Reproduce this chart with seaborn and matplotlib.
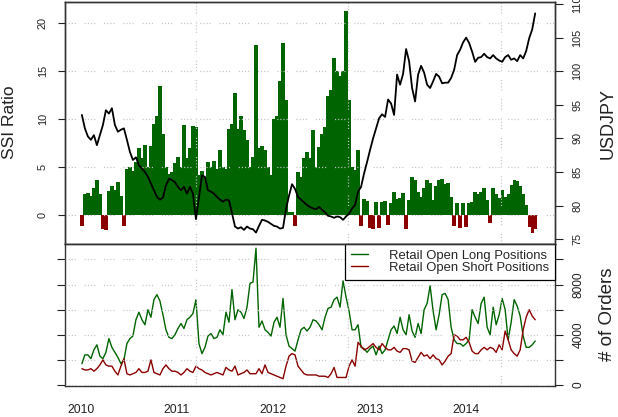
import numpy as np
import pandas as pd
import matplotlib
matplotlib.use("Agg")
import matplotlib.pyplot as plt
import matplotlib.dates as mdates
import seaborn as sns

# ---------------- data ----------------
dates = pd.date_range("2010-01-06", "2014-09-20", periods=152)

ssi_ratio = [
    -1.2, 2.2, 2.3, 2.0, 2.8, 3.7, 2.2, -1.5, -1.6, 2.5,
    3.0, 2.6, 3.4, 2.0, -1.1, 4.8, 5.0, 4.6, 5.5, 7.0,
    6.0, 7.3, 5.0, 7.2, 9.5, 10.3, 13.5, 8.5, 5.0, 4.3,
    4.5, 5.4, 6.1, 5.0, 9.4, 6.0, 7.0, 9.3, 9.2, 4.2,
    4.6, 4.0, 5.5, 5.0, 5.6, 4.8, 6.8, 5.0, 4.8, 9.0,
    9.5, 12.7, 9.0, 10.3, 8.9, 7.8, 5.0, 6.1, 17.8, 7.0,
    7.2, 6.8, 5.0, 4.2, 10.0, 10.3, 14.0, 18.0, 12.0, 0.3,
    0.3, -1.2, 4.5, 4.0, 6.0, 6.6, 6.0, 8.9, 5.0, 7.1,
    8.5, 9.2, 12.4, 13.1, 16.4, 15.0, 14.5, 15.0, 21.3, 12.0,
    5.0, 4.7, 6.8, -1.2, 1.7, 1.5, -1.4, -1.5, 1.4, -1.4,
    1.4, 1.5, -1.0, 1.2, 2.4, 1.7, 1.8, 2.3, -1.5, 1.6,
    4.0, 3.6, 2.4, 1.9, 2.8, 3.7, 3.3, 1.6, 3.0, 3.7,
    3.8, 3.2, 3.3, 1.9, -1.2, 1.2, -1.4, 1.2, -1.3, 1.2,
    1.4, 2.4, 2.2, 2.4, 2.8, 1.6, -0.8, 2.8, 2.2, 1.8,
    2.6, 1.9, 2.2, 3.1, 3.6, 3.5, 3.0, 2.2, 1.0, -1.3,
    -1.9, -1.5,
]

usdjpy = [
    93.5, 91.5, 90.3, 89.8, 90.5, 89.0, 90.5, 92.0, 94.2, 93.7,
    94.5, 92.0, 91.0, 91.3, 91.5, 89.8, 88.0, 86.8, 87.2, 86.0,
    85.5, 85.0, 84.3, 83.3, 82.3, 81.3, 80.9, 81.2, 83.0, 84.0,
    83.8, 83.5, 82.8, 82.3, 82.8, 81.8, 82.8, 81.8, 78.0, 81.3,
    84.5, 84.3, 82.3, 82.1, 81.8, 81.3, 80.9, 80.6, 80.9, 80.8,
    78.9, 76.9, 76.6, 76.8, 76.4, 76.9, 76.6, 76.5, 76.0, 77.0,
    77.9, 77.8, 77.6, 77.3, 77.0, 76.9, 76.6, 76.7, 79.5, 81.5,
    83.2, 82.5, 81.3, 80.9, 80.5, 80.1, 79.8, 79.6, 79.5, 79.8,
    79.4, 79.0, 78.5, 78.4, 78.2, 78.4, 78.3, 77.9, 78.4, 78.8,
    79.6, 80.1, 82.1, 82.8, 84.8, 86.5, 88.3, 90.0, 91.5, 93.0,
    93.6, 93.2, 95.8, 95.2, 93.5, 99.5, 98.0, 99.6, 103.3, 101.5,
    97.5, 95.5, 99.5, 100.8, 99.8, 98.0, 97.5, 98.5, 99.6, 99.2,
    98.2, 98.3, 98.3, 99.0, 100.2, 102.4, 103.2, 104.3, 105.0, 104.2,
    102.9, 101.4, 102.0, 102.1, 102.6, 102.1, 101.9, 102.4, 101.9, 101.6,
    101.4, 102.1, 102.4, 101.7, 101.9, 101.5, 102.4, 101.9, 103.0, 104.9,
    106.2, 108.6,
]

long_positions = [
    1700, 2400, 2400, 2100, 2800, 3200, 2300, 2100, 2600, 3700,
    3000, 2600, 2200, 1700, 2000, 3300, 3700, 3900, 5200, 5800,
    5200, 4800, 6000, 5400, 6800, 7200, 6700, 5600, 4400, 3800,
    3700, 4000, 4500, 4900, 4500, 5200, 5400, 5700, 6800, 3300,
    2500, 3000, 3900, 4100, 3700, 3800, 4400, 4000, 5800, 5000,
    7600, 5200, 6000, 5800, 5300, 6200, 8100, 8200, 10900, 4600,
    5100, 4400, 4200, 3900, 5000, 5400, 4600, 6900, 4000, 3100,
    2900, 2700, 3600, 4400, 4600, 4300, 4600, 5200, 5100, 4800,
    4400, 5400, 6100, 6200, 6800, 7000, 6200, 8300, 7000, 5900,
    4400, 4400, 4800, 3000, 2900, 2600, 2900, 3100, 2400, 3100,
    2500, 2800, 3600, 4400, 4700, 4100, 5400, 4400, 4000, 5600,
    4300, 3800, 4900, 4100, 6000, 6500, 7900, 5900, 4400, 5600,
    7200, 7300, 6800, 4600, 3600, 3300, 3300, 3100, 3300, 3600,
    6000, 5400, 4900, 6500, 7000, 4600, 4000, 6200, 4800, 5600,
    6900, 6000, 3600, 5000, 6800, 6300, 5500, 3900, 3000, 3000,
    3200, 3500,
]

short_positions = [
    1300, 1200, 1200, 1300, 1100, 1300, 1600, 2000, 1600, 1500,
    1500, 1100, 800, 1500, 2100, 900, 800, 900, 1000, 1300,
    1000, 1000, 1100, 2000, 1000, 900, 800, 1300, 1600, 1300,
    1100, 1100, 1000, 800, 1000, 1300, 1100, 1000, 1500, 1300,
    1200, 1000, 900, 800, 900, 1000, 900, 800, 1400, 1200,
    1100, 1500, 800, 900, 1000, 1200, 900, 900, 900, 1300,
    900, 1600, 1000, 900, 800, 700, 600, 500, 1500, 2300,
    2500, 2400, 1500, 1200, 900, 800, 800, 800, 800, 700,
    700, 700, 600, 900, 1400, 600, 600, 600, 600, 1500,
    2000, 1500, 3400, 3100, 2800, 2900, 3100, 3300, 3000, 2800,
    3300, 3000, 2800, 2800, 3000, 2700, 2600, 2900, 2900, 2800,
    1900, 1800, 2200, 2600, 2300, 2400, 2100, 2400, 2100, 2000,
    1600, 1900, 2300, 2500, 4000, 3900, 3600, 3600, 3800, 3400,
    2700, 2500, 2500, 2800, 3000, 2800, 3000, 2900, 2600, 3200,
    2800, 4300, 3600, 2800, 2500, 2300, 2800, 4400, 5400, 6000,
    5500, 5200,
]

ssi_ticks = [0, 5, 10, 15, 20]
usdjpy_ticks = [75, 80, 85, 90, 95, 100, 105, 110]
order_ticks = [0, 2000, 4000, 6000, 8000, 10000]
order_labels = ["0", "", "4000", "", "8000", ""]
grid_dates = pd.to_datetime(["2011-03-14", "2012-10-10", "2014-05-13"])
legend_labels = ["Retail Open Long Positions", "Retail Open Short Positions"]

# ---------------- style ----------------
sns.set_style("white")
plt.rcParams["font.family"] = ["Liberation Sans", "DejaVu Sans"]

GREEN = "#006400"
RED = "#8B0000"
SPINE = "#333333"
GRID = "#c4c4c4"
dots = (0, (0.9, 1.6, 0.9, 1.6, 0.9, 1.6, 0.9, 7.0))

W, H = 618, 417
fig = plt.figure(figsize=(W / 100, H / 100), dpi=100)
fig.patch.set_facecolor("white")

L, R = 65, 554.7
top_t, mid, bot_b = 1.7, 243.7, 386.0
ax1 = fig.add_axes([L / W, 1 - mid / H, (R - L) / W, (mid - top_t) / H])
ax2 = fig.add_axes([L / W, 1 - bot_b / H, (R - L) / W, (bot_b - mid) / H], sharex=ax1)

xmin = pd.Timestamp("2009-11-03")
xmax = pd.Timestamp("2014-12-03")

# ---------------- top panel: SSI bars ----------------
bar_w = (dates[1] - dates[0]) / pd.Timedelta(days=1)
vals = np.array(ssi_ratio)
colors = [GREEN if v >= 0 else RED for v in vals]
ax1.bar(dates, vals, width=bar_w * 1.1, color=colors, linewidth=0,
        antialiased=False, zorder=1)
ax1.set_ylim(-3.0, 22.27)
ax1.set_yticks(ssi_ticks)
ax1.set_yticklabels([str(t) for t in ssi_ticks], rotation=90, va="center", fontsize=7.8)
ax1.tick_params(axis="y", direction="out", length=5.3, width=0.8, pad=7, colors="#222222")
ax1.tick_params(axis="x", bottom=False, labelbottom=False)
ax1.set_axisbelow(False)
ax1.grid(axis="y", color=GRID, linestyle=dots, linewidth=0.9)
for gd in grid_dates:
    ax1.axvline(gd, color=GRID, linestyle=dots, linewidth=0.9, zorder=2.5)

# USDJPY line on right axis
ax1r = ax1.twinx()
sns.lineplot(x=dates, y=usdjpy, ax=ax1r, color="black", linewidth=1.3)
ax1r.set_ylim(74.35, 110.34)
ax1r.set_yticks(usdjpy_ticks)
ax1r.set_yticklabels([str(t) for t in usdjpy_ticks], rotation=90, va="center", fontsize=7.8)
ax1r.tick_params(axis="y", direction="out", length=5.8, width=0.8, pad=7, colors="#222222")
ax1r.set_ylabel("")
ax1r.set_xlabel("")
ax1.set_xlim(xmin, xmax)

# ---------------- bottom panel: positions ----------------
sns.lineplot(x=dates, y=long_positions, ax=ax2, color=GREEN, linewidth=1.0,
             label=legend_labels[0])
sns.lineplot(x=dates, y=short_positions, ax=ax2, color=RED, linewidth=1.0,
             label=legend_labels[1])
ax2.set_ylim(-80, 11259)
ax2.set_yticks(order_ticks)
ax2.set_yticklabels(order_labels, rotation=90, va="center", fontsize=8.6)
ax2.yaxis.set_ticks_position("both")
ax2.tick_params(axis="y", direction="out", length=5.8, width=0.8, pad=7,
                labelleft=False, labelright=True, colors="#222222")
ax2.set_axisbelow(False)
ax2.grid(axis="y", color=GRID, linestyle=dots, linewidth=0.9)
for gd in grid_dates:
    ax2.axvline(gd, color=GRID, linestyle=dots, linewidth=0.9, zorder=2.5)
ax2.xaxis.set_major_locator(mdates.YearLocator())
ax2.xaxis.set_major_formatter(mdates.DateFormatter("%Y"))
ax2.tick_params(axis="x", direction="out", length=5.3, width=0.8, pad=8,
                labelsize=8.8, colors="#222222")
ax2.set_xlabel("")
ax2.set_ylabel("")
ax2.set_xlim(xmin, xmax)

leg = ax2.legend(loc="upper right", bbox_to_anchor=(1.0, 1.0), borderaxespad=0,
                 frameon=True, fancybox=False, edgecolor="black", fontsize=9.4,
                 handlelength=1.3, handletextpad=1.6, borderpad=0.45,
                 labelspacing=0.0, framealpha=1)
leg.get_frame().set_linewidth(0.9)

for ax in (ax1, ax1r, ax2):
    for s in ax.spines.values():
        s.set_visible(True)
        s.set_color(SPINE)
        s.set_linewidth(1.0)

# axis titles
fig.text(9.5 / W, 1 - 122 / H, "SSI Ratio", rotation=90, ha="center", va="center",
         fontsize=12.5, color="#222222")
fig.text(608.5 / W, 1 - 124 / H, "USDJPY", rotation=90, ha="center", va="center",
         fontsize=13, color="#222222")
fig.text(607.5 / W, 1 - 314 / H, "# of Orders", rotation=90, ha="center", va="center",
         fontsize=13.5, color="#222222")

fig.savefig("out.png", dpi=100, facecolor="white")
